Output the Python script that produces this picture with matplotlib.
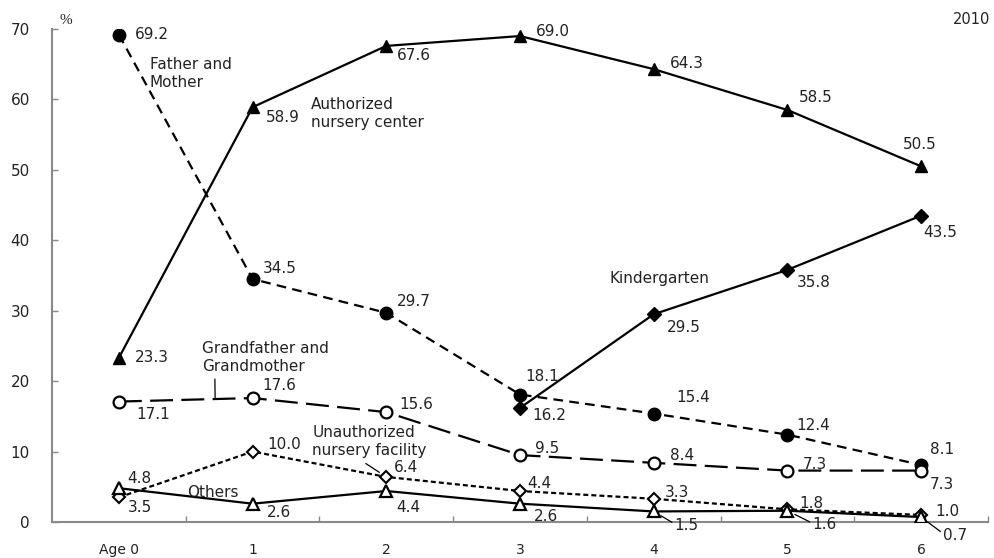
import numpy as np
import matplotlib.pyplot as plt

# values (%)
ages = ["Age 0", "1", "2", "3", "4", "5", "6"]
parents = [69.2, 34.5, 29.7, 18.1, 15.4, 12.4, 8.1]
authorized = [23.3, 58.9, 67.6, 69.0, 64.3, 58.5, 50.5]
kinder_ages = [3, 4, 5, 6]
kindergarten = [16.2, 29.5, 35.8, 43.5]
grandparents = [17.1, 17.6, 15.6, 9.5, 8.4, 7.3, 7.3]
unauthorized = [3.5, 10.0, 6.4, 4.4, 3.3, 1.8, 1.0]
others = [4.8, 2.6, 4.4, 2.6, 1.5, 1.6, 0.7]

# label offsets in pixels (dx, dy up)
off_parents = [(16, 0), (10, 11), (11, 11), (5, 18), (23, 16), (9, 9), (9, 15)]
off_authorized = [(16, 0), (13, -10), (11, -10), (16, 5), (16, 6), (11, 12), (-18, 22)]
off_kinder = [(12, -8), (13, -13), (9, -13), (2, -17)]
off_grand = [(17, -13), (10, 13), (13, 8), (15, 7), (16, 7), (15, 6), (9, -14)]
off_unauth = [(9, -10), (15, 7), (8, 9), (7, 8), (11, 6), (12, 6), (14, 3)]
off_others = [(8, 10), (14, -9), (10, -16), (14, -13), (21, -14), (25, -14), (22, -18)]

plt.rcParams['font.family'] = 'DejaVu Sans'
plt.rcParams['lines.scale_dashes'] = False
TXT = '#222222'
FS = 11

fig = plt.figure(figsize=(9.95, 5.58), dpi=100)
ax = fig.add_axes([52 / 995, 36 / 558, 936 / 995, 493 / 558])

x = np.arange(len(ages))

ax.plot(x, parents, color='black', lw=1.6, linestyle=(0, (7, 4.5)),
        marker='o', ms=9, mfc='black', mec='black', zorder=3)
ax.plot(x, authorized, color='black', lw=1.6, linestyle='-',
        marker='^', ms=9, mfc='black', mec='black', zorder=3)
ax.plot(kinder_ages, kindergarten, color='black', lw=1.6, linestyle='-',
        marker='D', ms=7, mfc='black', mec='black', zorder=3)
ax.plot(x, grandparents, color='black', lw=1.6, linestyle=(0, (16.5, 6)),
        marker='o', ms=8.5, mfc='white', mec='black', mew=1.6, zorder=3)
ax.plot(x, unauthorized, color='black', lw=1.6, linestyle=(0, (3.6, 2.2)),
        marker='D', ms=6.5, mfc='white', mec='black', mew=1.5, zorder=3)
ax.plot(x, others, color='black', lw=1.6, linestyle='-',
        marker='^', ms=9, mfc='white', mec='black', mew=1.6, zorder=3)


def label_series(xs, vals, offs, leader_from=None):
    for i, (xi, v, (dx, dy)) in enumerate(zip(xs, vals, offs)):
        kw = {}
        if leader_from is not None and i >= leader_from:
            kw['arrowprops'] = dict(arrowstyle='-', color='black', lw=0.9,
                                    shrinkA=0, shrinkB=6, relpos=(0, 0.6))
        ax.annotate(f"{v:.1f}", xy=(xi, v), xytext=(dx, dy),
                    textcoords='offset pixels', ha='left', va='center',
                    fontsize=FS, color=TXT, zorder=5, **kw)


label_series(x, parents, off_parents)
label_series(x, authorized, off_authorized)
label_series(kinder_ages, kindergarten, off_kinder)
label_series(x, grandparents, off_grand)
label_series(x, unauthorized, off_unauth)
label_series(x, others, off_others, leader_from=4)

# series names
ax.text(0.23, 63.75, "Father and\nMother", fontsize=FS, color=TXT,
        ha='left', va='center', linespacing=1.25)
ax.text(1.436, 58.07, "Authorized\nnursery center", fontsize=FS, color=TXT,
        ha='left', va='center', linespacing=1.25)
ax.text(3.673, 34.64, "Kindergarten", fontsize=FS, color=TXT,
        ha='left', va='center')
ax.text(0.509, 4.12, "Others", fontsize=FS, color=TXT,
        ha='left', va='center')

gx = 0.72
ax.annotate("Grandfather and\nGrandmother", xy=(gx, np.interp(gx, x, grandparents)),
            xytext=(-13, 42), textcoords='offset pixels', ha='left', va='center',
            fontsize=FS, color=TXT, linespacing=1.25,
            arrowprops=dict(arrowstyle='-', color='black', lw=0.9,
                            shrinkA=2, shrinkB=1, relpos=(0.1, 0)))
ax.annotate("Unauthorized\nnursery facility", xy=(2, unauthorized[2]),
            xytext=(-74, 35), textcoords='offset pixels', ha='left', va='center',
            fontsize=FS, color=TXT, linespacing=1.25,
            arrowprops=dict(arrowstyle='-', color='black', lw=0.9,
                            shrinkA=3, shrinkB=6, relpos=(0.4, 0)))

# axes styling
ax.set_xlim(-0.5, 6.5)
ax.set_ylim(0, 70)
ax.set_yticks(np.arange(0, 71, 10))
ax.set_xticks(x)
ax.set_xticklabels(ages)
ax.set_xticks(np.arange(0.5, 6.6, 1), minor=True)
ax.tick_params(axis='x', which='major', length=0, pad=15, labelsize=FS - 1, labelcolor=TXT)
ax.tick_params(axis='x', which='minor', direction='in', length=4.5, width=1, color='#898989')
ax.tick_params(axis='y', direction='in', length=4, width=1, color='#898989',
               pad=16, labelsize=FS, labelcolor=TXT)
for s in ['top', 'right']:
    ax.spines[s].set_visible(False)
for s in ['left', 'bottom']:
    ax.spines[s].set_color('#898989')
    ax.spines[s].set_linewidth(1.5)

fig.text(66 / 995, 1 - 20 / 558, "%", fontsize=FS, color=TXT, ha='center', va='center',
         family='Liberation Serif')
fig.text(990 / 995, 1 - 20 / 558, "2010", fontsize=FS - 0.5, color=TXT, ha='right', va='center')

fig.savefig('out.png', dpi=100)
